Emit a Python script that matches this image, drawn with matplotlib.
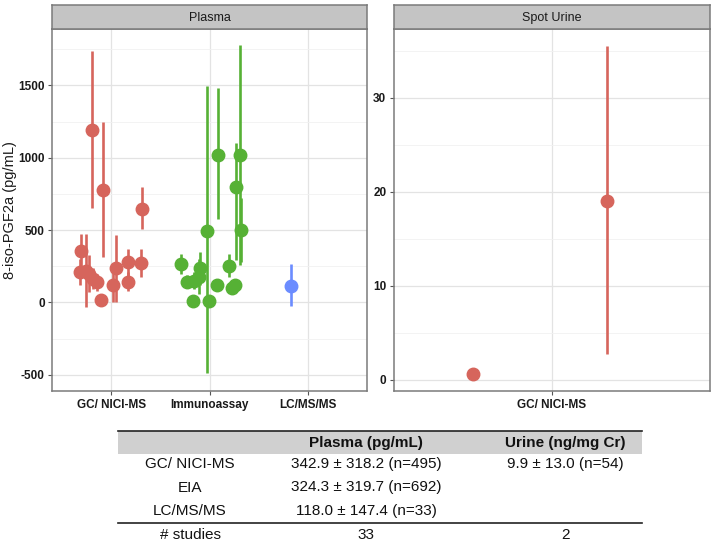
import numpy as np
import matplotlib.pyplot as plt

plt.rcParams['font.family'] = ['Liberation Sans', 'DejaVu Sans']
plt.rcParams['axes.unicode_minus'] = False

# ---- datos ----
metodos = ['GC/ NICI-MS', 'Immunoassay', 'LC/MS/MS']

# plasma, GC/ NICI-MS
gc_media = [355, 210, 215, 195, 165, 138, 1190, 20, 778, 120, 235, 143, 278, 272, 648]
gc_min = [240, 120, -30, 75, 90, 80, 650, 5, 316, 0, 0, 80, 180, 177, 505]
gc_max = [470, 300, 470, 330, 240, 200, 1735, 35, 1244, 240, 464, 210, 367, 367, 796]
gc_dx = [-0.31, -0.32, -0.26, -0.23, -0.19, -0.15, -0.20, -0.11, -0.09, 0.02, 0.05, 0.17, 0.17, 0.30, 0.31]

# plasma, inmunoensayo
ia_media = [265, 143, 12, 145, 177, 235, 496, 12, 120, 1020, 251, 100, 118, 796, 1020, 500]
ia_min = [200, 100, -20, 90, 60, 120, -490, -20, 80, 575, 177, 60, 80, 293, 260, 280]
ia_max = [335, 190, 45, 210, 300, 350, 1498, 45, 160, 1482, 334, 140, 160, 1105, 1782, 720]
ia_dx = [-0.29, -0.23, -0.17, -0.16, -0.11, -0.10, -0.03, -0.01, 0.07, 0.08, 0.19, 0.23, 0.26, 0.27, 0.31, 0.32]

# plasma, LC/MS/MS
lc_media = [115]
lc_min = [-26]
lc_max = [265]
lc_dx = [-0.18]

# orina puntual, GC/ NICI-MS
ur_media = [0.64, 19.0]
ur_min = [0.5, 2.75]
ur_max = [0.8, 35.5]
ur_dx = [-0.30, 0.21]

# tabla
tabla_cols = ['', 'Plasma (pg/mL)', 'Urine (ng/mg Cr)']
tabla_filas = [['GC/ NICI-MS', '342.9 ± 318.2 (n=495)', '9.9 ± 13.0 (n=54)'],
               ['EIA', '324.3 ± 319.7 (n=692)', ''],
               ['LC/MS/MS', '118.0 ± 147.4 (n=33)', '']]
tabla_estudios = ['# studies', '33', '2']

colores = ['#d6655c', '#56b135', '#6b8cff']
borde = '#7a7a7a'


def panel(ax, titulo):
    for s in ax.spines.values():
        s.set_color(borde)
        s.set_linewidth(1.1)
    ax.grid(True, which='major', color='#e3e3e3', lw=0.9, zorder=0)
    ax.grid(True, which='minor', axis='y', color='#f1f1f1', lw=0.6, zorder=0)
    ax.set_axisbelow(True)
    ax.tick_params(axis='both', which='major', length=3, width=0.8, color='#555555',
                   labelsize=8.5, labelcolor='#1a1a1a', pad=2.5)
    ax.tick_params(axis='both', which='minor', length=0)
    for lab in ax.get_yticklabels() + ax.get_xticklabels():
        lab.set_fontweight('bold')
    # franja del titulo
    pos = ax.get_position()
    st = ax.figure.add_axes([pos.x0, pos.y1, pos.width, 24 / 544])
    st.set_xticks([])
    st.set_yticks([])
    st.set_facecolor('#c4c4c4')
    for s in st.spines.values():
        s.set_color(borde)
        s.set_linewidth(1.1)
    st.text(0.5, 0.45, titulo, ha='center', va='center', fontsize=9, color='#1a1a1a',
            transform=st.transAxes)


def puntos(ax, xc, media, lo, hi, dx, color):
    x = xc + np.array(dx)
    ax.vlines(x, lo, hi, color=color, lw=1.9, zorder=3)
    ax.plot(x, media, 'o', color=color, ms=9, mec=color, zorder=4)


fig = plt.figure(figsize=(7.14, 5.44), dpi=100)

ax1 = fig.add_axes([52.3 / 714, 1 - 391 / 544, 315 / 714, 362 / 544])
puntos(ax1, 1, gc_media, gc_min, gc_max, gc_dx, colores[0])
puntos(ax1, 2, ia_media, ia_min, ia_max, ia_dx, colores[1])
puntos(ax1, 3, lc_media, lc_min, lc_max, lc_dx, colores[2])
ax1.set_xlim(0.4, 3.6)
ax1.set_ylim(-612, 1890)
ax1.set_xticks([1, 2, 3])
ax1.set_xticklabels(metodos)
ax1.set_yticks([-500, 0, 500, 1000, 1500])
ax1.set_yticks([-250, 250, 750, 1250, 1750], minor=True)
panel(ax1, 'Plasma')
fig.text(10 / 714, 1 - 210 / 544, '8-iso-PGF2a (pg/mL)', rotation=90, ha='center', va='center',
         fontsize=10.5, color='#1a1a1a')

ax2 = fig.add_axes([394 / 714, 1 - 391 / 544, 316 / 714, 362 / 544])
puntos(ax2, 1, ur_media, ur_min, ur_max, ur_dx, colores[0])
ax2.set_xlim(0.4, 1.6)
ax2.set_ylim(-1.2, 37.3)
ax2.set_xticks([1])
ax2.set_xticklabels([metodos[0]])
ax2.set_yticks([0, 10, 20, 30])
ax2.set_yticks([5, 15, 25, 35], minor=True)
panel(ax2, 'Spot Urine')

# ---- tabla ----
W, H = 714, 544
def fx(px):
    return px / W
def fy(py):
    return 1 - py / H

x_izq, x_der = 118, 642
col_x = [190, 366, 565]
fig.patches.append(plt.Rectangle((fx(x_izq), fy(454)), fx(x_der) - fx(x_izq), fy(431) - fy(454),
                                 transform=fig.transFigure, facecolor='#d0d0d0', edgecolor='none'))
fig.add_artist(plt.Line2D([fx(x_izq), fx(x_der)], [fy(431), fy(431)], color='#222222', lw=1.2))
fig.add_artist(plt.Line2D([fx(x_izq), fx(x_der)], [fy(523), fy(523)], color='#222222', lw=1.2))

for j, c in enumerate(tabla_cols):
    fig.text(fx(col_x[j]), fy(442.5), c, ha='center', va='center', fontsize=11,
             fontweight='bold', color='#111111')
for i, fila in enumerate(tabla_filas):
    for j, c in enumerate(fila):
        fig.text(fx(col_x[j]), fy(464 + 23.5 * i), c, ha='center', va='center',
                 fontsize=11, color='#111111')
for j, c in enumerate(tabla_estudios):
    fig.text(fx(col_x[j]), fy(535), c, ha='center', va='center', fontsize=11, color='#111111')

fig.savefig('out.png', dpi=100)
